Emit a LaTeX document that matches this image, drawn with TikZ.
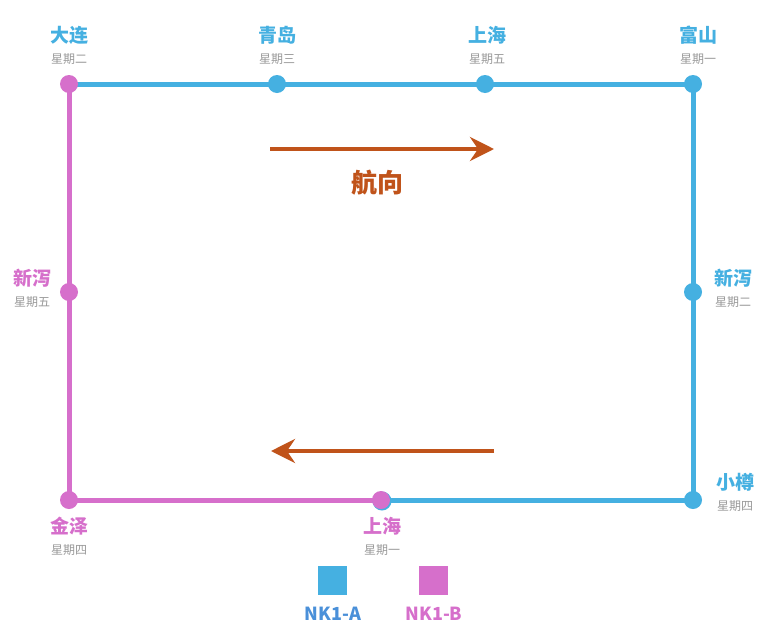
\documentclass[tikz,border=0pt]{standalone}
\usepackage{fontspec}
\setmainfont{Noto Sans CJK SC}
\newfontfamily\cjk{Noto Sans CJK SC}
\usetikzlibrary{arrows.meta}
\definecolor{lineA}{HTML}{45B0E1}
\definecolor{lineB}{HTML}{D66FCB}
\definecolor{dirc}{HTML}{C0531A}
\definecolor{daygray}{HTML}{999999}
\definecolor{legA}{HTML}{4A90D9}
\tikzset{
  routeA/.style={draw=lineA,line width=5pt},
  routeB/.style={draw=lineB,line width=5pt},
  portA/.style={circle,fill=lineA,inner sep=0pt,minimum size=18pt},
  portB/.style={circle,fill=lineB,inner sep=0pt,minimum size=18pt},
  cityA/.style={text=lineA,font=\cjk\fontsize{19}{19}\selectfont\bfseries,inner sep=0pt},
  cityB/.style={text=lineB,font=\cjk\fontsize{19}{19}\selectfont\bfseries,inner sep=0pt},
  day/.style={text=daygray,font=\cjk\fontsize{12}{12}\selectfont,inner sep=0pt},
  dirarrow/.style={draw=dirc,line width=4pt,-{Stealth[length=24pt,width=24pt,inset=8pt]}},
  legbox/.style={minimum size=29pt,inner sep=0pt},
  leglabel/.style={font=\fontsize{18}{18}\selectfont\bfseries,inner sep=0pt}
}
\begin{document}
\begin{tikzpicture}[x=1pt,y=-1pt]
\useasboundingbox (0,0) rectangle (773,635);
\fill[white] (0,0) rectangle (773,635);
% ports
\coordinate (tl) at (69,84);
\coordinate (qd) at (277,84);
\coordinate (sh1) at (485,84);
\coordinate (tr) at (693,84);
\coordinate (lm) at (69,292);
\coordinate (rm) at (693,292);
\coordinate (bl) at (69,500);
\coordinate (bm) at (381,500);
\coordinate (br) at (693,500);
% routes
\draw[routeA] (tl) -- (tr) -- (br) -- (bm);
\draw[routeB] (tl) -- (bl) -- (bm);
% dots
\node[portB] (ntl) at (tl) {};
\node[portA] (nqd) at (qd) {};
\node[portA] (nsh1) at (sh1) {};
\node[portA] (ntr) at (tr) {};
\node[portB] (nlm) at (lm) {};
\node[portA] (nrm) at (rm) {};
\node[portB] (nbl) at (bl) {};
\node[portA,minimum size=19pt] (nbmo) at (382,501) {};
\node[portB] (nbm) at (bm) {};
\node[portA] (nbr) at (br) {};
% labels
\node[cityA] (c1) at (69,35) {大连};
\node[day] (d1) at (69,59) {星期二};
\node[cityA] (c2) at (277,35) {青岛};
\node[day] (d2) at (277,59) {星期三};
\node[cityA] (c3) at (487,35) {上海};
\node[day] (d3) at (487,59) {星期五};
\node[cityA] (c4) at (698,35) {富山};
\node[day] (d4) at (698,59) {星期一};
\node[cityB] (c5) at (32,278) {新泻};
\node[day] (d5) at (32,302) {星期五};
\node[cityA] (c6) at (733,278) {新泻};
\node[day] (d6) at (733,302) {星期二};
\node[cityA] (c7) at (735,482) {小樽};
\node[day] (d7) at (735,506) {星期四};
\node[cityB] (c8) at (69,526) {金泽};
\node[day] (d8) at (69,550) {星期四};
\node[cityB] (c9) at (382,526) {上海};
\node[day] (d9) at (382,550) {星期一};
% direction arrows
\coordinate (a1s) at (270,149);
\coordinate (a1e) at (494,149);
\draw[dirarrow] (a1s) -- (a1e);
\node[text=dirc,font=\cjk\fontsize{26}{26}\selectfont\bfseries,inner sep=0pt] (hx) at (377,183) {航向};
\coordinate (a2s) at (494,451);
\coordinate (a2e) at (271,451);
\draw[dirarrow] (a2s) -- (a2e);
% legend
\node[legbox,fill=lineA] (lA) at (332.5,580.5) {};
\node[legbox,fill=lineB] (lB) at (433.5,580.5) {};
\node[leglabel,text=legA] (tA) at (333,614) {NK1-A};
\node[leglabel,text=lineB] (tB) at (434,614) {NK1-B};
\end{tikzpicture}
\end{document}
